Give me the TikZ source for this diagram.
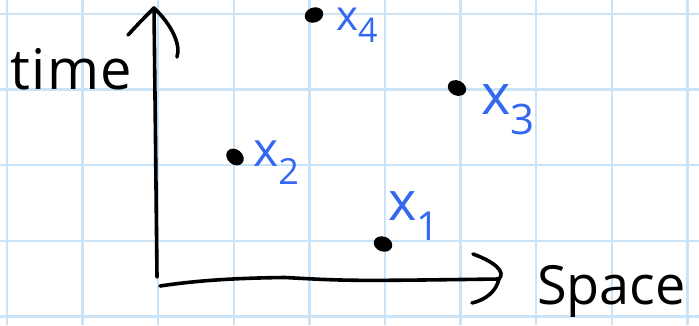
\documentclass[tikz,border=0pt]{standalone}
\usepackage{fontspec}
\usetikzlibrary{shapes.geometric}
\setmainfont{Open Sans}
\definecolor{gridblue}{RGB}{202,227,246}
\definecolor{labelblue}{RGB}{52,104,240}
\begin{document}
\begin{tikzpicture}[x=1pt,y=-1pt,
  gridline/.style={draw=gridblue,line width=2.4pt},
  axisline/.style={draw=black,line width=3.6pt,line cap=round,line join=round},
  dotmark/.style={fill=black,ellipse,inner sep=0pt,minimum width=19pt,minimum height=15pt},
  xlabel/.style={text=labelblue,inner sep=0pt,anchor=base west},
  axlabel/.style={text=black,inner sep=0pt,anchor=base west}]
\useasboundingbox (0,0) rectangle (699,325);
\fill[white] (0,0) rectangle (699,325);
% grid
\foreach \k in {0,...,9} {\draw[gridline] ({7+75.6*\k},0) -- ({7+75.6*\k},325);}
\foreach \k in {0,...,4} {\draw[gridline] (0,{14+75.6*\k}) -- (699,{14+75.6*\k});}
% axes
\coordinate (o1) at (157,277);
\coordinate (ttip) at (154,8);
\coordinate (o2) at (160,286);
\coordinate (stip) at (499,279);
\draw[axisline] (o1) -- (155.5,140) -- (ttip);
\draw[axisline] (128,35) .. controls (140,22) .. (ttip) .. controls (172,25) and (181,45) .. (177,57);
\draw[axisline] (o2) .. controls (200,280) and (240,278) .. (285,277.5) .. controls (350,281) .. (stip);
\draw[axisline] (473,254) .. controls (495,262) and (506,272) .. (stip) .. controls (496,292) and (485,300) .. (472,303);
% labels
\node[axlabel,font=\fontsize{56}{56}\selectfont] (time) at (10,89) {t\kern2pt i\kern1pt m\kern1pt e};
\node[axlabel,font=\fontsize{54}{54}\selectfont] (space) at (537,304) {Space};
% points
\node[dotmark,rotate=20] (p4) at (314,15) {};
\node[dotmark,rotate=-25] (p3) at (457,88) {};
\node[dotmark,rotate=-40] (p2) at (235,157) {};
\node[dotmark,rotate=-20] (p1) at (383,244) {};
% point labels
\node[xlabel] (l4) at (336,30) {\fontsize{42}{42}\selectfont x\raisebox{-12pt}{\fontsize{34}{34}\selectfont 4}};
\node[xlabel] (l3) at (481,114) {\fontsize{56}{56}\selectfont x\raisebox{-20pt}{\fontsize{42}{42}\selectfont 3}};
\node[xlabel] (l2) at (253,166) {\fontsize{48}{48}\selectfont x\raisebox{-18pt}{\fontsize{36}{36}\selectfont 2}};
\node[xlabel] (l1) at (388,220) {\fontsize{54}{54}\selectfont x\raisebox{-20pt}{\fontsize{40}{40}\selectfont 1}};
\end{tikzpicture}
\end{document}
